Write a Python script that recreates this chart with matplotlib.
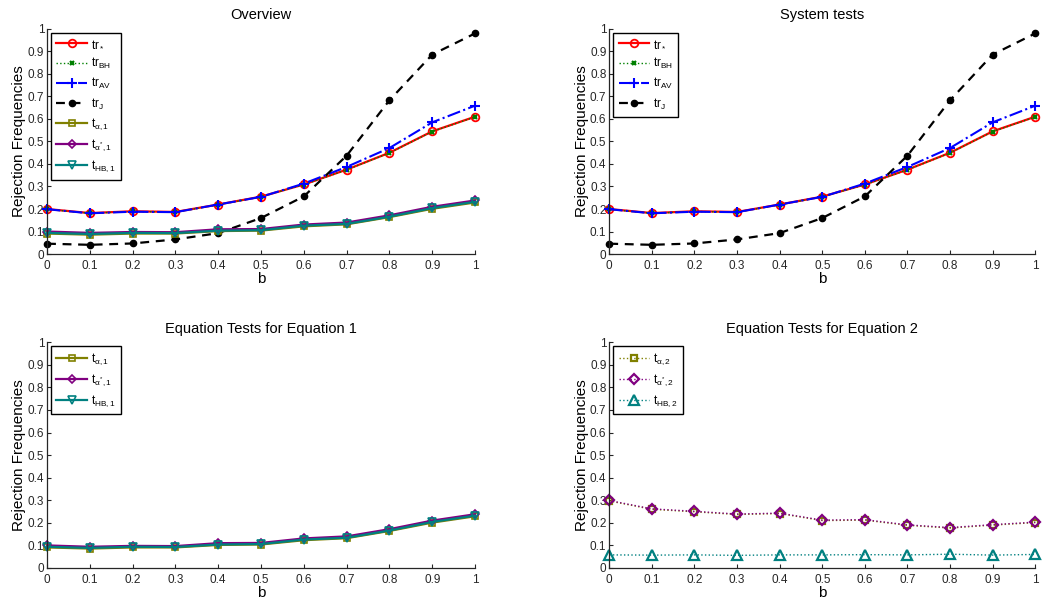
import numpy as np
import matplotlib
matplotlib.use("Agg")
import matplotlib.pyplot as plt

plt.rcParams["font.family"] = ["Liberation Sans", "DejaVu Sans"]
plt.rcParams["mathtext.fontset"] = "custom"
plt.rcParams["mathtext.rm"] = "Liberation Sans"
plt.rcParams["mathtext.it"] = "Liberation Sans"
plt.rcParams["mathtext.bf"] = "Liberation Sans:bold"

b = [0, 0.1, 0.2, 0.3, 0.4, 0.5, 0.6, 0.7, 0.8, 0.9, 1.0]

tr_star = [0.200, 0.182, 0.190, 0.187, 0.220, 0.255, 0.309, 0.375, 0.450, 0.545, 0.610]
tr_bh = [0.199, 0.181, 0.189, 0.186, 0.219, 0.254, 0.308, 0.374, 0.449, 0.544, 0.609]
tr_av = [0.199, 0.181, 0.188, 0.186, 0.220, 0.254, 0.313, 0.387, 0.471, 0.585, 0.659]
tr_j = [0.046, 0.041, 0.047, 0.065, 0.093, 0.160, 0.256, 0.437, 0.683, 0.886, 0.980]

t_a1 = [0.091, 0.086, 0.091, 0.091, 0.102, 0.104, 0.123, 0.132, 0.164, 0.201, 0.229]
t_as1 = [0.100, 0.094, 0.098, 0.097, 0.110, 0.111, 0.131, 0.140, 0.172, 0.210, 0.238]
t_hb1 = [0.094, 0.089, 0.094, 0.093, 0.104, 0.106, 0.126, 0.134, 0.166, 0.204, 0.232]

t_a2 = [0.297, 0.260, 0.249, 0.237, 0.241, 0.210, 0.212, 0.189, 0.177, 0.190, 0.201]
t_as2 = [0.299, 0.262, 0.251, 0.239, 0.243, 0.212, 0.214, 0.191, 0.179, 0.192, 0.203]
t_hb2 = [0.058, 0.057, 0.058, 0.056, 0.058, 0.058, 0.059, 0.058, 0.061, 0.057, 0.060]

tick_labels = ["0", "0.1", "0.2", "0.3", "0.4", "0.5", "0.6", "0.7", "0.8", "0.9", "1"]

RED = "#ff0000"
GREEN = "#008000"
BLUE = "#0000ff"
OLIVE = "#808000"
PURPLE = "#800080"
TEAL = "#008080"


def sys_lines(ax):
    ax.plot(b, tr_star, color=RED, lw=1.6, marker="o", ms=5.5, mfc="none", mew=1.3, label=r"tr$_*$")
    ax.plot(b, tr_bh, color=GREEN, lw=1.0, ls=":", marker="x", ms=3.5, mew=1.6, label=r"tr$_{\mathrm{BH}}$")
    ax.plot(b, tr_av, color=BLUE, lw=1.5, ls="-.", marker="+", ms=7, mew=1.5, label=r"tr$_{\mathrm{AV}}$")
    ax.plot(b, tr_j, color="black", lw=1.6, ls=(0, (4, 3)), marker="o", ms=4.5, label=r"tr$_{\mathrm{J}}$")


def eq1_lines(ax):
    ax.plot(b, t_a1, color=OLIVE, lw=1.6, marker="s", ms=4, mfc="none", mew=1.2, label=r"t$_{\alpha,1}$")
    ax.plot(b, t_as1, color=PURPLE, lw=1.6, marker="D", ms=4, mfc="none", mew=1.2, label=r"t$_{\alpha^{*},1}$")
    ax.plot(b, t_hb1, color=TEAL, lw=1.6, marker="v", ms=5.5, mfc="none", mew=1.2, label=r"t$_{\mathrm{HB},1}$")


def style(ax, title):
    ax.set_xlim(0, 1)
    ax.set_ylim(0, 1)
    ax.set_xticks(b)
    ax.set_xticklabels(tick_labels)
    ax.set_yticks(b)
    ax.set_yticklabels(tick_labels)
    ax.tick_params(direction="in", length=3, labelsize=8.5, colors="#262626")
    ax.tick_params(axis="x", pad=4)
    ax.tick_params(axis="y", pad=2)
    for s in ("top", "right"):
        ax.spines[s].set_visible(False)
    for s in ("left", "bottom"):
        ax.spines[s].set_color("#262626")
        ax.spines[s].set_linewidth(0.9)
    ax.set_title(title, fontsize=10.5, pad=7)
    ax.set_xlabel("b", fontsize=11, labelpad=0)
    ax.set_ylabel("Rejection Frequencies", fontsize=11, labelpad=1)
    leg = ax.legend(loc="upper left", fontsize=8.5, fancybox=False, edgecolor="black",
                    framealpha=1, borderaxespad=0.35, handlelength=2.6, labelspacing=0.45,
                    borderpad=0.45, handletextpad=0.3)
    leg.get_frame().set_linewidth(1.0)


fig = plt.figure(figsize=(10.45, 6.02), dpi=100)
ax1 = fig.add_axes([0.045, 0.578, 0.4096, 0.374])
ax2 = fig.add_axes([0.583, 0.578, 0.4077, 0.374])
ax3 = fig.add_axes([0.045, 0.0565, 0.4096, 0.375])
ax4 = fig.add_axes([0.583, 0.0565, 0.4077, 0.375])

sys_lines(ax1)
eq1_lines(ax1)
style(ax1, "Overview")

sys_lines(ax2)
style(ax2, "System tests")

eq1_lines(ax3)
style(ax3, "Equation Tests for Equation 1")

ax4.plot(b, t_a2, color=OLIVE, lw=1.0, ls=":", marker="s", ms=4.5, mfc="none", mew=1.6, label=r"t$_{\alpha,2}$")
ax4.plot(b, t_as2, color=PURPLE, lw=1.0, ls=":", marker="D", ms=5, mfc="none", mew=1.6, label=r"t$_{\alpha^{*},2}$")
ax4.plot(b, t_hb2, color=TEAL, lw=1.0, ls=":", marker="^", ms=6.5, mfc="none", mew=1.6, label=r"t$_{\mathrm{HB},2}$")
style(ax4, "Equation Tests for Equation 2")

for ax in (ax1, ax2, ax3, ax4):
    for ln in ax.get_lines():
        ln.set_clip_on(False)

fig.savefig("out.png", dpi=100)
